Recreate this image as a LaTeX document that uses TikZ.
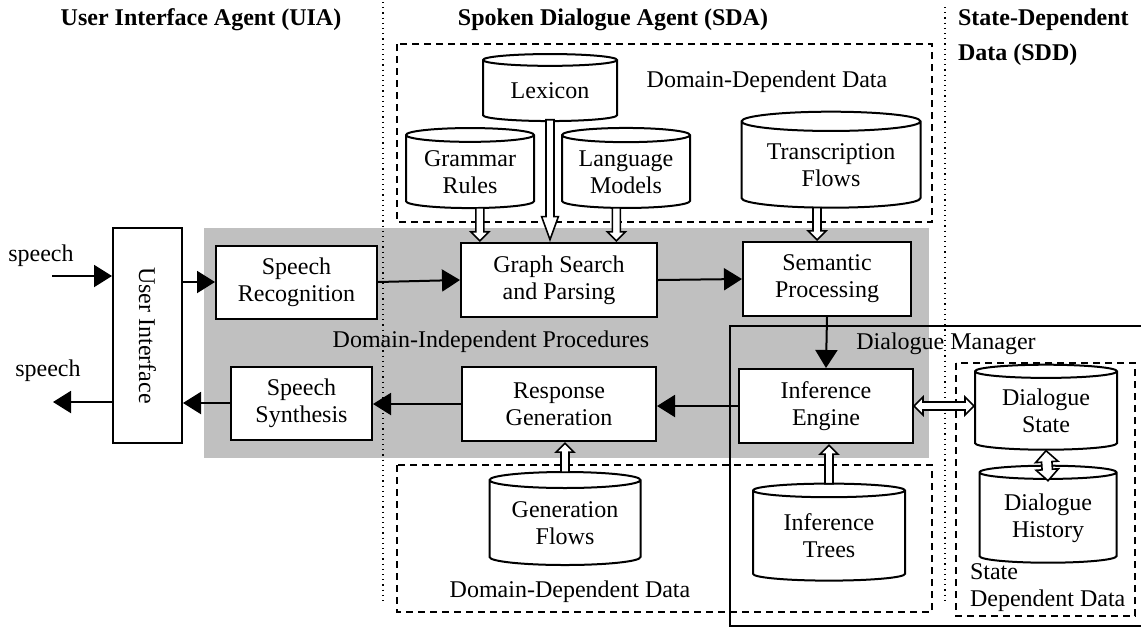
\documentclass[tikz,border=0pt]{standalone}
\usepackage{fontspec}
\setmainfont{Liberation Serif}
\usetikzlibrary{arrows.meta,shapes.geometric,shapes.arrows,calc}

\definecolor{panelgray}{RGB}{192,192,192}

\tikzset{
  proc/.style={draw, fill=white, line width=1pt, align=center, inner sep=0pt},
  store/.style={cylinder, shape border rotate=90, aspect=0.15, draw, fill=white,
    line width=1pt, align=center, inner sep=0pt},
  ddbox/.style={line width=1pt, dash pattern=on 3.5pt off 2.5pt},
  flow/.style={line width=1pt, -{Triangle[length=9pt,width=11pt]}},
  sepline/.style={line width=0.6pt, dotted},
  fat/.style={draw, fill=white, line width=0.8pt, inner sep=1.6pt},
  heading/.style={font=\fontsize{12}{17.5}\selectfont\bfseries},
}

% hollow arrow from #1 to #2 (tip at #2)
\newcommand{\fatarrow}[3][]{%
  \path let \p1=($(#3)-(#2)$), \n1={veclen(\x1,\y1)}, \n2={atan2(\y1,\x1)} in
    node[fat, single arrow, single arrow head extend=2.5pt, minimum height=\n1,
      rotate=\n2, anchor=tip, #1] at (#3) {};}
% hollow arrow with two heads
\newcommand{\fatboth}[3][]{%
  \path let \p1=($(#3)-(#2)$), \n1={veclen(\x1,\y1)}, \n2={atan2(\y1,\x1)} in
    node[fat, double arrow, double arrow head extend=2.5pt, minimum height=\n1,
      rotate=\n2, #1] at ($(#2)!.5!(#3)$) {};}

\begin{document}
\begin{tikzpicture}[x=0.5pt, y=-0.5pt,
  every node/.style={font=\fontsize{12}{13.5}\selectfont}]
\useasboundingbox (0,0) rectangle (1141,628);

% background areas
\fill[panelgray] (204,228) rectangle (929,458);
\draw[sepline] (383,2) -- (383,605);
\draw[sepline] (945,7) -- (945,600);
\draw[line width=1pt] (1141,326) -- (730,326) -- (730,626) -- (1141,626);
\draw[ddbox] (397,44) rectangle (932,222);
\draw[ddbox] (397,465) rectangle (932,612);
\draw[ddbox] (956,363) rectangle (1135,616);

% headings
\node[heading] (uia) at (201,20) {User Interface Agent (UIA)};
\node[heading] (sda) at (613,20) {Spoken Dialogue Agent (SDA)};
\node[heading, align=left, anchor=west] (sdd) at (951,37.5) {State-Dependent\\Data (SDD)};

% labels of the areas
\node (ddtop) at (767,82) {Domain-Dependent Data};
\node (ddbot) at (570,592) {Domain-Dependent Data};
\node (dip) at (491,342) {Domain-Independent Procedures};
\node (dm) at (946,344) {Dialogue Manager};
\node[align=left, anchor=west] (sddlab) at (963,588) {State\\Dependent Data};

% processing blocks
\node[proc, minimum width=34.5pt, minimum height=107.5pt] (ui) at (147.5,335.5) {};
\node[rotate=-90] at (ui) {User Interface};
\node[proc, minimum width=80.5pt, minimum height=36.5pt] (sr) at (296.5,282) {Speech\\Recognition};
\node[proc, minimum width=70.5pt, minimum height=36.5pt] (ss) at (301.5,403) {Speech\\Synthesis};
\node[proc, minimum width=98pt, minimum height=37pt] (gsp) at (559,280) {Graph Search\\and Parsing};
\node[proc, minimum width=84pt, minimum height=37pt] (sp) at (827,279) {Semantic\\Processing};
\node[proc, minimum width=97pt, minimum height=37pt] (rg) at (559,404) {Response\\Generation};
\node[proc, minimum width=87pt, minimum height=37pt] (ie) at (826,406) {Inference\\Engine};

% data stores
\node[store, minimum width=67pt, minimum height=33.5pt] (lex) at (550,91) {Lexicon};
\node[store, minimum width=64pt, minimum height=40pt] (gram) at (470,172) {Grammar\\Rules};
\node[store, minimum width=64pt, minimum height=40pt] (lang) at (626,172) {Language\\Models};
\node[store, minimum width=89.5pt, minimum height=48pt] (trans) at (831,165) {Transcription\\Flows};
\node[store, minimum width=75.5pt, minimum height=46.5pt] (gen) at (565,523) {Generation\\Flows};
\node[store, minimum width=76pt, minimum height=48.5pt] (itree) at (829,536) {Inference\\Trees};
\node[store, minimum width=71pt, minimum height=42.5pt] (dstate) at (1046,411) {Dialogue\\State};
\node[store, minimum width=68.5pt, minimum height=48.5pt] (dhist) at (1048,518) {Dialogue\\History};

% speech in and out
\node (spin) at (41,256) {speech};
\node (spout) at (48,371) {speech};
\coordinate (inA) at (52,276);
\coordinate (outB) at (53,402);

\draw[flow] (inA) -- (inA -| ui.west);
\draw[flow] (ui.west |- outB) -- (outB);
\draw[flow] (ui.east |- sr.west) -- (sr.west);
\draw[flow] (sr.east) -- (gsp.west);
\draw[flow] (gsp.east) -- (sp.west);
\draw[flow] (sp.south) -- (ie.north);
\draw[flow] (ie.west) -- (ie.west -| rg.east);
\draw[flow] (rg.west) -- (rg.west -| ss.east);
\draw[flow] (ss.west) -- (ss.west -| ui.east);

% data flows
\coordinate (gramTo) at ($(gsp.north west)!0.1!(gsp.north east)$);
\coordinate (gramFrom) at (gramTo |- gram.south);
\coordinate (langTo) at ($(gsp.north west)!0.79!(gsp.north east)$);
\coordinate (langFrom) at (langTo |- lang.south);
\coordinate (lexTo) at (lex.south |- gsp.north);
\coordinate (transTo) at ($(sp.north)+(-10,0)$);
\coordinate (transFrom) at (transTo |- trans.south);
\coordinate (genTo) at (gen.north |- rg.south);
\coordinate (treeTo) at (itree.north |- ie.south);
\coordinate (stateTo) at (ie.east -| dstate.west);
\coordinate (histTo) at ($(dhist.north)+(0,16)$);

\fatarrow{gramFrom}{gramTo}
\fatarrow{langFrom}{langTo}
\fatarrow[single arrow tip angle=40, single arrow head extend=2.2pt]{lex.south}{lexTo}
\fatarrow{transFrom}{transTo}
\fatarrow{gen.north}{genTo}
\fatarrow{itree.north}{treeTo}
\fatboth{ie.east}{stateTo}
\fatboth[inner sep=2.2pt, double arrow head extend=3pt]{dstate.south}{histTo}
\end{tikzpicture}
\end{document}
